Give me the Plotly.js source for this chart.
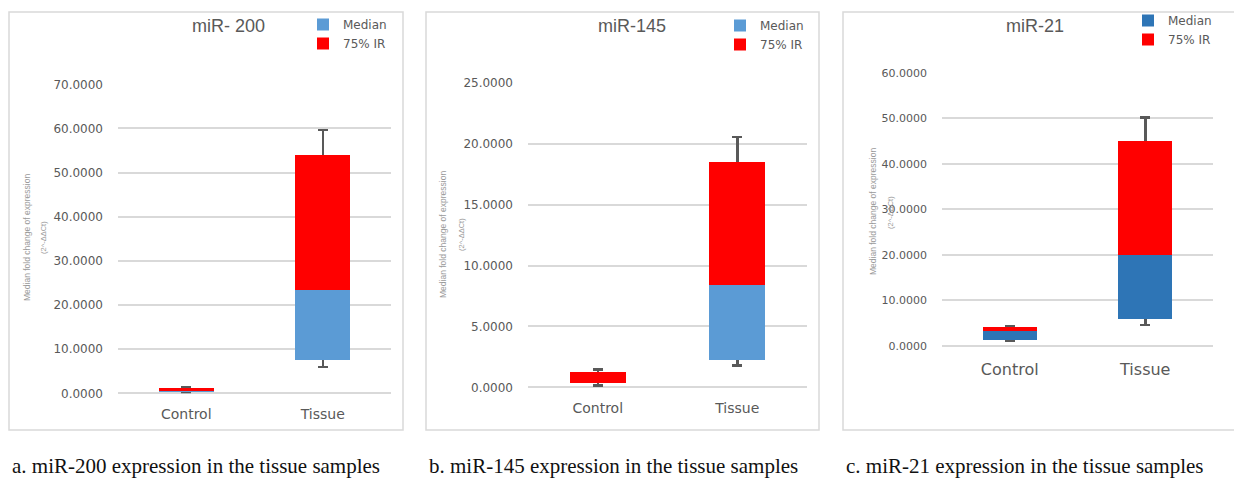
<!DOCTYPE html>
<html>
<head>
<meta charset="utf-8">
<script src="https://cdn.plot.ly/plotly-3.0.1.min.js"></script>
<style>html,body{margin:0;padding:0;background:#fff;}#chart{width:1234px;height:479px;}</style>
</head>
<body>
<div id="chart"></div>
<script>
// ---- data ----
var categories = ['Control', 'Tissue'];
var seriesNames = ['Median', '75% IR'];

var mir200_min    = [0.10, 6.00];
var mir200_q1     = [0.20, 7.55];
var mir200_median = [0.50, 23.30];
var mir200_q3     = [1.20, 53.90];
var mir200_max    = [1.45, 59.60];

var mir145_min    = [0.13, 1.78];
var mir145_q1     = [0.33, 2.24];
var mir145_median = [0.36, 8.40];
var mir145_q3     = [1.28, 18.55];
var mir145_max    = [1.48, 20.57];

var mir21_min     = [1.10, 4.55];
var mir21_q1      = [1.25, 5.80];
var mir21_median  = [3.23, 19.96];
var mir21_q3      = [4.10, 45.10];
var mir21_max     = [4.33, 50.20];

var panelTitles = ['miR- 200', 'miR-145', 'miR-21'];
var captions = ['a. miR-200 expression in the tissue samples',
                'b. miR-145 expression in the tissue samples',
                'c. miR-21 expression in the tissue samples'];
var yTitleLines = ['Median fold change of expression', '(2^-ΔΔCt)'];

// ---- layout helpers ----
var W = 1234, H = 479;
function px(x){ return x / W; }
function py(y){ return 1 - y / H; }
var SANS = 'DejaVu Sans, Verdana, sans-serif';

var panels = [
  {min: mir200_min, q1: mir200_q1, med: mir200_median, q3: mir200_q3, max: mir200_max,
   blue: '#5B9BD5', xd: [118, 391], yd: [393.3, 84.3], range: [0, 70], dtick: 10,
   tickSize: 12, catSize: 14, legend: 'legend', lx: 303, ly: 10, border: [9, 12, 403, 430],
   titleX: 228, ytx: [27, 43], yty: 238, catStand: 11},
  {min: mir145_min, q1: mir145_q1, med: mir145_median, q3: mir145_q3, max: mir145_max,
   blue: '#5B9BD5', xd: [528, 807], yd: [387.3, 83], range: [0, 25], dtick: 5,
   tickSize: 12, catSize: 14, legend: 'legend2', lx: 720, ly: 11, border: [426, 12, 819, 430],
   titleX: 632, ytx: [443, 461], yty: 235, catStand: 11},
  {min: mir21_min, q1: mir21_q1, med: mir21_median, q3: mir21_q3, max: mir21_max,
   blue: '#2E75B6', xd: [942, 1213], yd: [345.7, 73], range: [0, 60], dtick: 10,
   tickSize: 11, catSize: 16, legend: 'legend3', lx: 1128, ly: 6, border: [843, 12, 1240, 430],
   titleX: 1035, ytx: [873, 890], yty: 212, catStand: 12}
];

var traces = [];
var layout = {
  width: W, height: H,
  margin: {l: 0, r: 0, t: 0, b: 0},
  paper_bgcolor: '#ffffff', plot_bgcolor: 'rgba(0,0,0,0)',
  barmode: 'stack',
  showlegend: true,
  font: {family: SANS, color: '#595959'},
  shapes: [], annotations: []
};

panels.forEach(function(p, i){
  var n = i === 0 ? '' : String(i + 1);
  var xa = 'x' + n, ya = 'y' + n;
  var lower = p.q1.map(function(v, k){ return v - p.min[k]; });
  var upper = p.q1.map(function(v, k){ return p.max[k] - v; });
  // invisible base carrying the whiskers (hidden behind the box)
  traces.push({
    type: 'bar', x: categories, y: p.q1, xaxis: xa, yaxis: ya, width: 0.4,
    marker: {color: 'rgba(0,0,0,0)'}, showlegend: false, hoverinfo: 'skip',
    legend: p.legend,
    error_y: {type: 'data', symmetric: false, array: upper, arrayminus: lower,
              color: '#595959', thickness: 2.5, width: 5}
  });
  traces.push({
    type: 'bar', name: seriesNames[0], x: categories, xaxis: xa, yaxis: ya, width: 0.4,
    y: p.med.map(function(v, k){ return v - p.q1[k]; }),
    marker: {color: p.blue}, legend: p.legend
  });
  traces.push({
    type: 'bar', name: seriesNames[1], x: categories, xaxis: xa, yaxis: ya, width: 0.4,
    y: p.q3.map(function(v, k){ return v - p.med[k]; }),
    marker: {color: '#FF0000'}, legend: p.legend
  });

  layout['xaxis' + n] = {
    domain: [px(p.xd[0]), px(p.xd[1])], anchor: ya,
    showgrid: false, zeroline: false, showline: false, ticks: '',
    tickfont: {size: p.catSize, color: '#595959', family: SANS}, ticklabelstandoff: p.catStand,
    fixedrange: true
  };
  layout['yaxis' + n] = {
    domain: [py(p.yd[0]), py(p.yd[1])], anchor: xa,
    range: p.range, dtick: p.dtick, tick0: 0, tickformat: '.4f',
    showgrid: true, gridcolor: '#D9D9D9', gridwidth: 2,
    zeroline: true, zerolinecolor: '#D9D9D9', zerolinewidth: 2,
    showline: false, ticks: '', ticklabelstandoff: 14,
    tickfont: {size: p.tickSize, color: '#595959', family: SANS}, fixedrange: true
  };
  layout[p.legend] = {
    x: px(p.lx), y: py(p.ly), xanchor: 'left', yanchor: 'top',
    traceorder: 'normal', bgcolor: 'rgba(0,0,0,0)',
    font: {size: 12, color: '#595959', family: SANS}, itemclick: false, itemdoubleclick: false
  };
  layout.shapes.push({
    type: 'rect', xref: 'paper', yref: 'paper',
    x0: px(p.border[0]), x1: px(p.border[2]), y0: py(p.border[3]), y1: py(p.border[1]),
    line: {color: '#D9D9D9', width: 1.5}, fillcolor: 'rgba(0,0,0,0)'
  });
  layout.annotations.push({
    text: panelTitles[i], xref: 'paper', yref: 'paper', x: px(p.titleX), y: py(26),
    xanchor: 'center', yanchor: 'middle', showarrow: false,
    font: {size: 18, color: '#595959', family: 'Liberation Sans, Arial, sans-serif'}
  });
  yTitleLines.forEach(function(t, k){
    layout.annotations.push({
      text: t, xref: 'paper', yref: 'paper', x: px(p.ytx[k]), y: py(p.yty),
      xanchor: 'center', yanchor: 'middle', showarrow: false, textangle: -90,
      font: {size: k === 0 ? 8.5 : 7.5, color: '#9a9a9a', family: 'Liberation Sans, Arial, sans-serif'}
    });
  });
  layout.annotations.push({
    text: captions[i], xref: 'paper', yref: 'paper',
    x: px(p.border[0] + 2), y: 0, xanchor: 'left', yanchor: 'bottom', showarrow: false,
    borderpad: 0,
    font: {size: 21, family: 'Liberation Serif, Times New Roman, serif', color: '#111111'}
  });
});

Plotly.newPlot('chart', traces, layout, {staticPlot: true, displayModeBar: false});
</script>
</body>
</html>
